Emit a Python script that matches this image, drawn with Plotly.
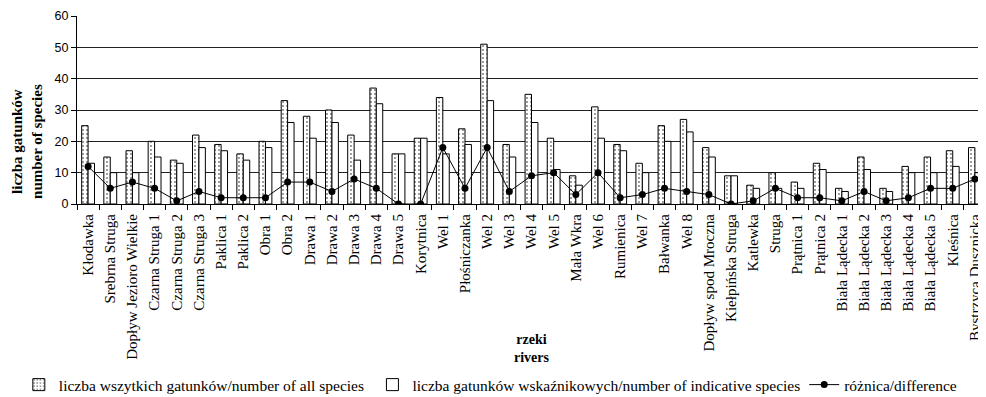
import plotly.graph_objects as go

categories = ["Kłodawka", "Srebrna Struga", "Dopływ Jezioro Wielkie", "Czarna Struga 1",
              "Czarna Struga 2", "Czarna Struga 3", "Paklica 1", "Paklica 2", "Obra 1", "Obra 2",
              "Drawa 1", "Drawa 2", "Drawa 3", "Drawa 4", "Drawa 5", "Korytnica", "Wel 1",
              "Płośniczanka", "Wel 2", "Wel 3", "Wel 4", "Wel 5", "Mała Wkra", "Wel 6",
              "Rumienica", "Wel 7", "Bałwanka", "Wel 8", "Dopływ spod Mroczna",
              "Kiełpińska Struga", "Katlewka", "Struga", "Prątnica 1", "Prątnica 2",
              "Biała Lądecka 1", "Biała Lądecka 2", "Biała Lądecka 3", "Biała Lądecka 4",
              "Biała Lądecka 5", "Kleśnica", "Bystrzyca Dusznicka"]

all_species = [25, 15, 17, 20, 14, 22, 19, 16, 20, 33,
               28, 30, 22, 37, 16, 21, 34, 24, 51, 19,
               35, 21, 9, 31, 19, 13, 25, 27, 18, 9,
               6, 10, 7, 13, 5, 15, 5, 12, 15, 17, 18]

indicative_species = [13, 10, 10, 15, 13, 18, 17, 14, 18, 26,
                      21, 26, 14, 32, 16, 21, 16, 19, 33, 15,
                      26, 11, 6, 21, 17, 10, 20, 23, 15, 9,
                      5, 5, 5, 11, 4, 11, 4, 10, 10, 12, 10]

difference = [12, 5, 7, 5, 1, 4, 2, 2, 2, 7,
              7, 4, 8, 5, 0, 0, 18, 5, 18, 4,
              9, 10, 3, 10, 2, 3, 5, 4, 3, 0,
              1, 5, 2, 2, 1, 4, 1, 2, 5, 5, 8]

serif = "Liberation Serif"
sans = "Liberation Sans"

fig = go.Figure()
fig.add_trace(go.Bar(
    x=categories, y=all_species,
    name="liczba wszytkich gatunków/number of all species",
    marker=dict(color="white", line=dict(color="black", width=1),
                pattern=dict(shape=".", fgcolor="black", bgcolor="white", size=4, solidity=0.2)),
    legend="legend",
))
fig.add_trace(go.Bar(
    x=categories, y=indicative_species,
    name="liczba gatunków wskaźnikowych/number of indicative species",
    marker=dict(color="white", line=dict(color="black", width=1)),
    legend="legend2",
))
fig.add_trace(go.Scatter(
    x=categories, y=difference, mode="lines+markers",
    name="różnica/difference",
    line=dict(color="black", width=1),
    marker=dict(color="black", size=7, symbol="circle"),
    legend="legend3",
))

legend_common = dict(orientation="h", xanchor="left", y=-0.963, yanchor="middle",
                     font=dict(family=serif, size=15.5, color="black"),
                     itemwidth=30, bgcolor="rgba(0,0,0,0)")

# page body has an 8px margin: shift the figure so the plot area lands where the reference has it
fig.update_layout(
    width=978, height=389,
    margin=dict(l=69, r=0, t=8, b=193, autoexpand=False),
    paper_bgcolor="white", plot_bgcolor="white",
    barmode="group", bargap=0.42, bargroupgap=0,
    showlegend=True,
    legend=dict(x=-0.064, **legend_common),
    legend2=dict(x=0.325, **legend_common),
    legend3=dict(x=0.800, **legend_common),
    font=dict(family=serif, color="black"),
)

fig.update_xaxes(
    type="category", tickangle=-90, range=[-0.5, len(categories) - 0.5],
    tickfont=dict(family=serif, size=15, color="black"),
    showline=True, linecolor="black", linewidth=1,
    ticks="outside", tickson="boundaries", ticklen=5, tickcolor="black",
    ticklabelstandoff=3,
    showgrid=False, mirror=False, automargin=False,
)
fig.update_yaxes(
    range=[0, 60], dtick=10, tick0=0,
    tickfont=dict(family=sans, size=12.5, color="black"),
    showline=True, linecolor="black", linewidth=1,
    ticks="outside", ticklen=5, tickcolor="black",
    showgrid=True, gridcolor="#222", gridwidth=1,
    zeroline=False, automargin=False,
)

fig.add_annotation(
    text="<b>liczba gatunków<br>number of species</b>",
    xref="paper", yref="paper", x=-0.055, y=0.33,
    xanchor="center", yanchor="middle",
    showarrow=False, textangle=-90,
    font=dict(family=serif, size=15, color="black"),
)
fig.add_annotation(
    text="<b>rzeki<br>rivers</b>",
    xref="paper", yref="paper", x=0.5, y=-0.766,
    xanchor="center", yanchor="middle",
    showarrow=False,
    font=dict(family=serif, size=14, color="black"),
)

fig.write_html("out.html")
